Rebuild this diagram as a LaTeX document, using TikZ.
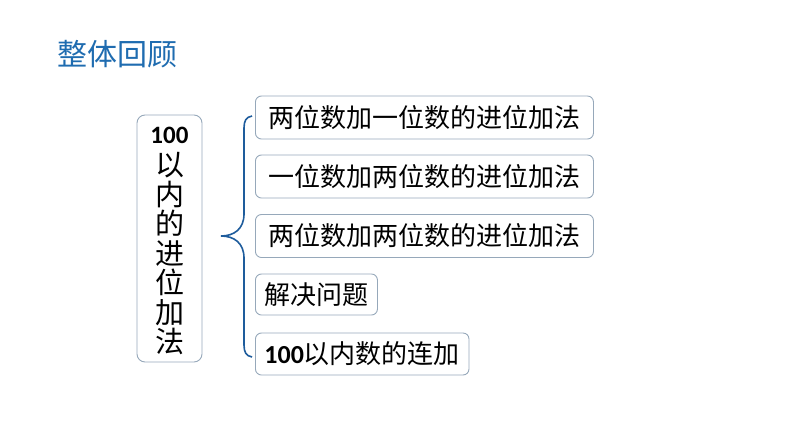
\documentclass[tikz,border=0pt]{standalone}
\usepackage{fontspec}
\setmainfont{Carlito}
\newfontfamily\cjk{Noto Sans CJK SC}
\definecolor{titleblue}{HTML}{1F6CB0}
\definecolor{bracecol}{HTML}{1E5C9C}
\definecolor{boxline}{HTML}{96A8BA}
\tikzset{
  itembox/.style={draw=boxline, line width=0.9pt, rounded corners=6pt, anchor=west,
    inner xsep=9pt, inner ysep=0pt, text=black, font=\fontsize{26}{30}\selectfont\cjk},
}
\begin{document}
\begin{tikzpicture}[x=1pt,y=-1pt]
\useasboundingbox (0,0) rectangle (794,447);
\node[anchor=west, inner sep=0pt, text=titleblue, font=\fontsize{30}{34}\selectfont\cjk] (title) at (57,54) {整体回顾};
\node[draw=boxline, line width=0.9pt, rounded corners=8pt, minimum width=65pt, minimum height=247pt, inner sep=0pt] (main) at (169.5,238.5) {};
\node[inner sep=0pt, font=\fontsize{25}{28}\selectfont\bfseries] (hundred) at (169.5,135.5) {100};
\node[inner sep=0pt, align=center, font=\fontsize{29}{29.5}\selectfont\cjk] (mainv) at (169.5,254) {以\\内\\的\\进\\位\\加\\法};
\node[itembox, minimum height=43pt, minimum width=338pt] (b1) at (255,117.5) {两位数加一位数的进位加法};
\node[itembox, minimum height=43pt, minimum width=338pt] (b2) at (255,176.5) {一位数加两位数的进位加法};
\node[itembox, minimum height=43pt, minimum width=338pt] (b3) at (255,236) {两位数加两位数的进位加法};
\node[itembox, minimum height=41pt] (b4) at (255,294.5) {解决问题};
\node[itembox, minimum height=42pt] (b5) at (255,354) {{\fontsize{26}{30}\selectfont\rmfamily\bfseries 100}以内数的连加};
\coordinate (btop) at (252,116);
\coordinate (btip) at (221,236);
\coordinate (bbot) at (252,357);
\draw[bracecol, line width=1.6pt] (btop) .. controls (246,117) and (244,121) .. (244,128)
  -- (244,214) .. controls (244,229) and (234,236) .. (btip)
  .. controls (234,236) and (244,243) .. (244,258)
  -- (244,345) .. controls (244,352) and (246,356) .. (bbot);
\end{tikzpicture}
\end{document}
